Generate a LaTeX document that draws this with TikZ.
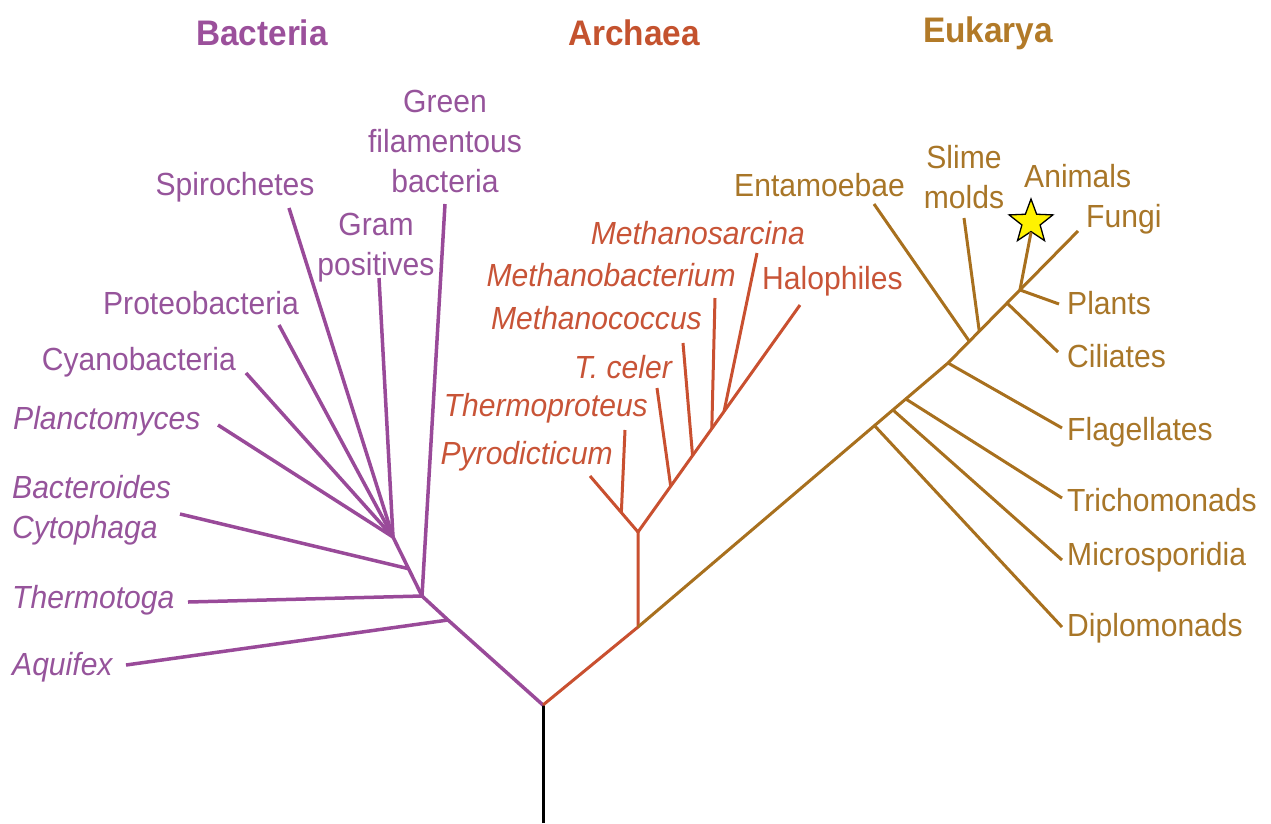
\documentclass[tikz,border=0pt]{standalone}
\usepackage{fontspec}
\setmainfont[FakeStretch=0.94]{Liberation Sans}
\usetikzlibrary{shapes.geometric,calc}
\definecolor{bline}{RGB}{153,74,153}
\definecolor{btext}{RGB}{150,84,155}
\definecolor{aline}{RGB}{201,80,48}
\definecolor{atext}{RGB}{200,84,55}
\definecolor{eline}{RGB}{168,112,30}
\definecolor{etext}{RGB}{168,118,40}
\definecolor{btitle}{RGB}{155,80,155}
\definecolor{atitle}{RGB}{196,82,46}
\definecolor{etitle}{RGB}{178,122,40}
\tikzset{
  lbl/.style={inner sep=0pt, font=\fontsize{32}{40}\selectfont, align=center},
  ttl/.style={inner sep=0pt, font=\fontsize{35.5}{40}\selectfont\bfseries},
  bl/.style={draw=bline, line width=3.5pt},
  al/.style={draw=aline, line width=3pt},
  el/.style={draw=eline, line width=3pt},
}
\begin{document}
\begin{tikzpicture}[x=1pt,y=-1pt]
\useasboundingbox (0,0) rectangle (1271,823);
% titles
\node[ttl, text=btitle] (tb) at (262,33) {Bacteria};
\node[ttl, text=atitle] (ta) at (634,33) {Archaea};
\node[ttl, text=etitle] (te) at (988,33) {Eukarya};

% ---------- coordinates ----------
\coordinate (rootB) at (543,823);
\coordinate (root) at (543,705);
% bacteria
\coordinate (bAq) at (448,620);
\coordinate (bTh) at (422,596);
\coordinate (bGr) at (393,537);
\coordinate (bBa) at ($(bTh)!(410,568)!(bGr)$);
\coordinate (eAq) at (126,665);
\coordinate (eTh) at (188,602);
\coordinate (eBa) at (180,514);
\coordinate (eGf) at (445,204);
\coordinate (eGp) at (379,278);
\coordinate (eSp) at (289,208);
\coordinate (ePr) at (279,325);
\coordinate (eCy) at (246,373);
\coordinate (ePl) at (218,425);
% archaea
\coordinate (aBase) at (638,627);
\coordinate (aY) at (638,532);
\coordinate (ePy) at (590,476);
\coordinate (eHa) at (800,305);
\coordinate (aThp) at ($(aY)!(622,512)!(ePy)$);
\coordinate (aTc) at ($(aY)!(669,485)!(eHa)$);
\coordinate (aMc) at ($(aY)!(689,453)!(eHa)$);
\coordinate (aMb) at ($(aY)!(711,428)!(eHa)$);
\coordinate (aMs) at ($(aY)!(722,410)!(eHa)$);
\coordinate (eThp) at (625,430);
\coordinate (eTc) at (657,388);
\coordinate (eMc) at (683,343);
\coordinate (eMb) at (715,298);
\coordinate (eMs) at (757,253);
% eukarya
\coordinate (kFl) at (948,363);
\coordinate (eFu) at (1078,231);
\coordinate (kDi) at ($(aBase)!(874,425)!(kFl)$);
\coordinate (kMi) at ($(aBase)!(893,410)!(kFl)$);
\coordinate (kTr) at ($(aBase)!(905,398)!(kFl)$);
\coordinate (kEn) at ($(kFl)!(967,339)!(eFu)$);
\coordinate (kSl) at ($(kFl)!(977,329)!(eFu)$);
\coordinate (kCi) at ($(kFl)!(1008,304)!(eFu)$);
\coordinate (kPl) at ($(kFl)!(1021,291)!(eFu)$);
\coordinate (eDi) at (1062,627);
\coordinate (eMi) at (1062,560);
\coordinate (eTr) at (1062,498);
\coordinate (eFl) at (1062,428);
\coordinate (eCi) at (1058,352);
\coordinate (ePlt) at (1059,304);
\coordinate (eEn) at (874,204);
\coordinate (eSl) at (964,218);

% ---------- lines ----------
\draw[line width=3pt, black] (rootB) -- (root);
% bacteria
\draw[bl, line join=round] (root) -- (bAq) -- (bTh) -- (bGr);
\draw[bl] (bAq) -- (eAq);
\draw[bl] (bTh) -- (eTh);
\draw[bl] (bTh) -- (eGf);
\draw[bl] (bBa) -- (eBa);
\draw[bl] (bGr) -- (eGp);
\draw[bl] (bGr) -- (eSp);
\draw[bl] (bGr) -- (ePr);
\draw[bl] (bGr) -- (eCy);
\draw[bl] (bGr) -- (ePl);
% archaea
\draw[al, line join=round] (root) -- (aBase) -- (aY);
\draw[al] (aY) -- (ePy);
\draw[al] (aThp) -- (eThp);
\draw[al] (aY) -- (eHa);
\draw[al] (aTc) -- (eTc);
\draw[al] (aMc) -- (eMc);
\draw[al] (aMb) -- (eMb);
\draw[al] (aMs) -- (eMs);
% eukarya
\draw[el, line join=round] (aBase) -- (kFl) -- (eFu);
\draw[el] (kDi) -- (eDi);
\draw[el] (kMi) -- (eMi);
\draw[el] (kTr) -- (eTr);
\draw[el] (kFl) -- (eFl);
\draw[el] (kEn) -- (eEn);
\draw[el] (kSl) -- (eSl);
\draw[el] (kCi) -- (eCi);
\draw[el] (kPl) -- (ePlt);
\node[star, star points=5, star point ratio=2.4, draw=black, line width=1.3pt, fill=yellow, minimum size=46pt, inner sep=0pt] (star) at (1031,222) {};
\draw[el] (kPl) -- (star.south);

% ---------- labels ----------
\begin{scope}[every node/.style={lbl, text=btext}]
\node (lGf) at (445,141) {Green\\filamentous\\bacteria};
\node (lSp) at (235,187) {Spirochetes};
\node (lGp) at (376,248) {Gram\\positives};
\node (lPr) at (201,303) {Proteobacteria};
\node[anchor=east] (lCy) at (236,362) {Cyanobacteria};
\node[anchor=west] (lPl) at (13,421) {\itshape Planctomyces};
\node[anchor=west, align=left] (lBa) at (12,510) {\itshape Bacteroides\\\itshape Cytophaga};
\node[anchor=west] (lTh) at (12,600) {\itshape Thermotoga};
\node[anchor=west] (lAq) at (12,667) {\itshape Aquifex};
\end{scope}
\begin{scope}[every node/.style={lbl, text=atext, font=\fontsize{32}{40}\selectfont\itshape}]
\node[anchor=east] (lMs) at (805,233) {Methanosarcina};
\node[anchor=east] (lMb) at (736,275) {Methanobacterium};
\node[anchor=east] (lMc) at (702,318) {Methanococcus};
\node[anchor=east] (lTc) at (672,367) {T. celer};
\node[anchor=east] (lThp) at (648,408) {Thermoproteus};
\node[anchor=east] (lPy) at (613,456) {Pyrodicticum};
\end{scope}
\node[lbl, text=atext, anchor=west] (lHa) at (762,281) {Halophiles};
\begin{scope}[every node/.style={lbl, text=etext}]
\node[anchor=east] (lEn) at (905,185) {Entamoebae};
\node (lSl) at (964,177) {Slime\\molds};
\node[anchor=west] (lAn) at (1024,176) {Animals};
\node[anchor=west] (lFu) at (1086,219) {Fungi};
\node[anchor=west] (lPlt) at (1067,303) {Plants};
\node[anchor=west] (lCi) at (1067,356) {Ciliates};
\node[anchor=west] (lFl) at (1067,432) {Flagellates};
\node[anchor=west] (lTr) at (1067,500) {Trichomonads};
\node[anchor=west] (lMi) at (1067,557) {Microsporidia};
\node[anchor=west] (lDi) at (1067,628) {Diplomonads};
\end{scope}
\end{tikzpicture}
\end{document}
